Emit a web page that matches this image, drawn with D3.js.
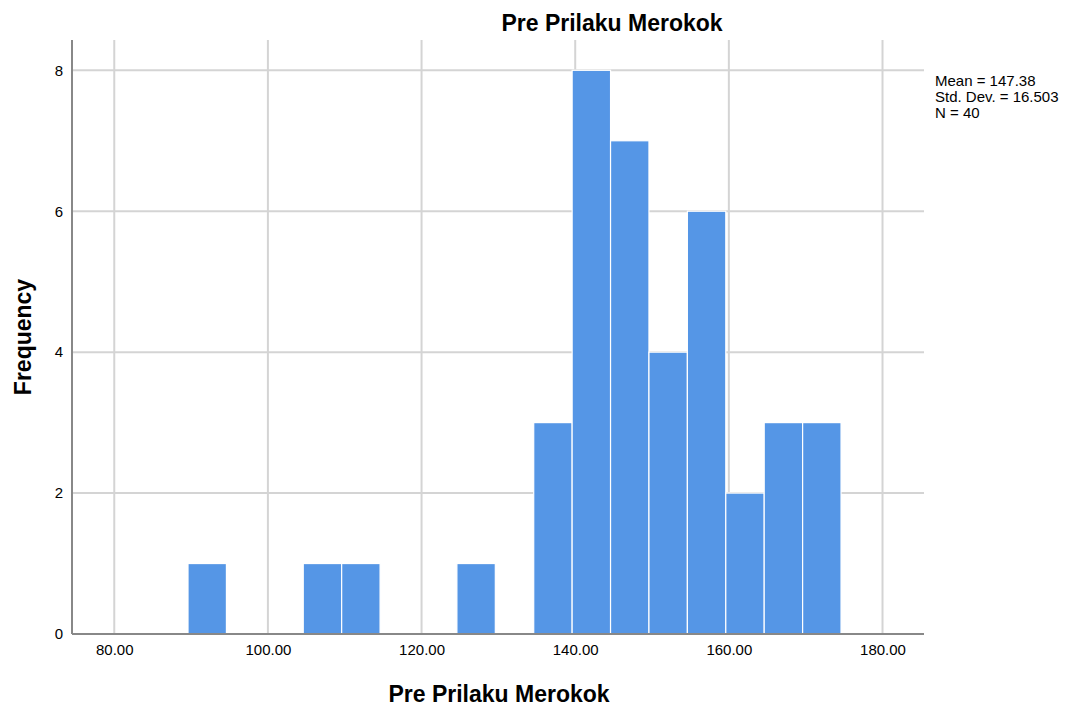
<!DOCTYPE html>
<html lang="en">
<head>
  <meta charset="UTF-8">
  <title>Pre Prilaku Merokok</title>
  <script src="https://d3js.org/d3.v7.min.js"></script>
</head>
<style>
body { margin: 0; background: #fff; }
text { font-family: "Liberation Sans", Arial, sans-serif; fill: #000; }
</style>
<body>
<div id="content"></div>
<script>
var width = 1077, height = 711

// histogram bins (lower edges), bin width and counts
var binStarts = [89.6, 94.6, 99.6, 104.6, 109.6, 114.6, 119.6, 124.6, 129.6, 134.6, 139.6, 144.6, 149.6, 154.6, 159.6, 164.6, 169.6]
var binWidth = 5
var counts = [1, 0, 0, 1, 1, 0, 0, 1, 0, 3, 8, 7, 4, 6, 2, 3, 3]
var xTicks = [80, 100, 120, 140, 160, 180]
var yTicks = [0, 2, 4, 6, 8]
var statsLines = ["Mean = 147.38", "Std. Dev. = 16.503", "N = 40"]

var plotL = 72, plotR = 924, plotT = 40, plotB = 634

var svg = d3.select('#content').append('svg')
  .attr('width', width)
  .attr('height', height)

var x = d3.scaleLinear().domain([74.5, 185.4]).range([plotL, plotR])
var y = d3.scaleLinear().domain([0, 8.43]).range([plotB, plotT])

// gridlines
svg.selectAll('.vgrid').data(xTicks).enter().append('line')
  .attr('x1', function(d) { return x(d) }).attr('x2', function(d) { return x(d) })
  .attr('y1', plotT).attr('y2', plotB)
  .attr('stroke', '#d4d4d4').attr('stroke-width', 2)

svg.selectAll('.hgrid').data(yTicks.slice(1)).enter().append('line')
  .attr('x1', plotL).attr('x2', plotR)
  .attr('y1', function(d) { return y(d) }).attr('y2', function(d) { return y(d) })
  .attr('stroke', '#d4d4d4').attr('stroke-width', 2)

// bars
var bins = binStarts.map(function(s, i) { return {x0: s, x1: s + binWidth, n: counts[i]} })
svg.selectAll('rect.bar').data(bins.filter(function(d) { return d.n > 0 })).enter().append('rect')
  .attr('class', 'bar')
  .attr('x', function(d) { return x(d.x0) })
  .attr('width', function(d) { return x(d.x1) - x(d.x0) })
  .attr('y', function(d) { return y(d.n) })
  .attr('height', function(d) { return y(0) - y(d.n) })
  .attr('fill', '#5596e6')
  .attr('stroke', '#ffffff')
  .attr('stroke-width', 1.2)

// axes
var xAxis = svg.append('g').attr('transform', 'translate(0,' + plotB + ')')
  .call(d3.axisBottom(x).tickValues(xTicks).tickFormat(d3.format('.2f')).tickSize(0).tickPadding(10))
xAxis.select('.domain').attr('stroke', '#888').attr('stroke-width', 2)
  .attr('d', 'M' + plotL + ',0H' + plotR)
xAxis.selectAll('text').style('font-size', '15px')

var yAxis = svg.append('g').attr('transform', 'translate(' + plotL + ',0)')
  .call(d3.axisLeft(y).tickValues(yTicks).tickFormat(d3.format('d')).tickSize(0).tickPadding(9))
yAxis.select('.domain').attr('stroke', '#888').attr('stroke-width', 2)
  .attr('d', 'M0,' + plotT + 'V' + plotB)
yAxis.selectAll('text').style('font-size', '15px')

// titles
svg.append('text').attr('x', 612).attr('y', 31)
  .attr('text-anchor', 'middle').style('font-size', '23px').style('font-weight', 'bold')
  .text('Pre Prilaku Merokok')

svg.append('text').attr('x', 499).attr('y', 702)
  .attr('text-anchor', 'middle').style('font-size', '23px').style('font-weight', 'bold')
  .text('Pre Prilaku Merokok')

svg.append('text').attr('transform', 'translate(31,337) rotate(-90)')
  .attr('text-anchor', 'middle').style('font-size', '23px').style('font-weight', 'bold')
  .text('Frequency')

// stats box
svg.selectAll('.stat').data(statsLines).enter().append('text')
  .attr('x', 935)
  .attr('y', function(d, i) { return 86 + i * 16 })
  .style('font-size', '15px')
  .text(function(d) { return d })
</script>
</body>
</html>
